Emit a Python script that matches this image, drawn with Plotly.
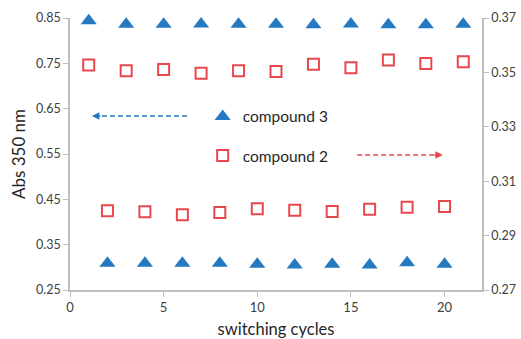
import plotly.graph_objects as go

# compound 3 (left axis) - triangles
c3_cycles = [1, 2, 3, 4, 5, 6, 7, 8, 9, 10, 11, 12, 13, 14, 15, 16, 17, 18, 19, 20, 21]
c3_abs = [0.844, 0.309, 0.836, 0.309, 0.836, 0.309, 0.837, 0.309, 0.836, 0.307,
          0.836, 0.305, 0.835, 0.307, 0.837, 0.305, 0.835, 0.310, 0.835, 0.307, 0.836]

# compound 2 (right axis) - open squares
c2_cycles = [1, 2, 3, 4, 5, 6, 7, 8, 9, 10, 11, 12, 13, 14, 15, 16, 17, 18, 19, 20, 21]
c2_abs = [0.3527, 0.2991, 0.3506, 0.2988, 0.3511, 0.2977, 0.3497, 0.2985, 0.3506, 0.2999,
          0.3503, 0.2993, 0.3530, 0.2989, 0.3517, 0.2997, 0.3546, 0.3004, 0.3533, 0.3007, 0.3539]

x_ticks = [0, 5, 10, 15, 20]
y_left_ticks = [0.25, 0.35, 0.45, 0.55, 0.65, 0.75, 0.85]
y_right_ticks = [0.27, 0.29, 0.31, 0.33, 0.35, 0.37]

BLUE = "#2479c1"
RED = "#e8484d"
AXIS = "#bfbfbf"
FONT = "Lato"

fig = go.Figure()
fig.add_trace(go.Scatter(
    x=c3_cycles, y=c3_abs, mode="markers", name="compound 3",
    legendgroup="a", cliponaxis=False,
    marker=dict(symbol="triangle-up", size=14, color=BLUE),
))
fig.add_trace(go.Scatter(
    x=c2_cycles, y=c2_abs, mode="markers", name="compound 2", yaxis="y2",
    legendgroup="b", cliponaxis=False,
    marker=dict(symbol="square-open", size=11, color=RED, line=dict(width=2, color=RED)),
))

# dashed arrows (paper coordinates): tail -> tip
arrows = [
    dict(x0=0.284, x1=0.053, y=0.640, color=BLUE, dirn=-1),
    dict(x0=0.697, x1=0.905, y=0.496, color=RED, dirn=1),
]
for a in arrows:
    fig.add_shape(type="line", xref="paper", yref="paper",
                  x0=a["x0"], x1=a["x1"] - a["dirn"] * 0.012, y0=a["y"], y1=a["y"],
                  line=dict(color=a["color"], width=1.5, dash="5px,3px"))
    fig.add_annotation(xref="paper", yref="paper", x=a["x1"], y=a["y"],
                       ax=-a["dirn"] * 10, ay=0,
                       text="", showarrow=True, arrowhead=2, arrowsize=1,
                       arrowwidth=1.5, arrowcolor=a["color"])

fig.update_layout(
    width=521, height=339,
    margin=dict(l=70, r=39, t=18, b=49, autoexpand=False),
    paper_bgcolor="white", plot_bgcolor="white",
    font=dict(family=FONT, size=13, color="#404040"),
    showlegend=True,
    legend=dict(x=0.322, y=0.699, xanchor="left", yanchor="top",
                bgcolor="rgba(0,0,0,0)", font=dict(size=15.5, color="#262626"),
                tracegroupgap=16, itemwidth=30),
    xaxis=dict(range=[0, 22], tickvals=x_ticks, showgrid=False, zeroline=False,
               automargin=False,
               showline=True, linecolor=AXIS, linewidth=1.5, ticks="outside",
               tickcolor=AXIS, ticklen=5,
               title=dict(text="switching cycles", font=dict(size=16.5, color="#262626"), standoff=12),
               tickfont=dict(size=13, color="#404040")),
    yaxis=dict(range=[0.25, 0.85], tickvals=y_left_ticks, tickformat=".2f",
               automargin=False,
               showgrid=False, zeroline=False, showline=True, linecolor=AXIS,
               linewidth=1.5, ticks="outside", tickcolor=AXIS, ticklen=5,
               title=dict(text="Abs 350 nm", font=dict(size=17, color="#262626"), standoff=6),
               tickfont=dict(size=12.5, color="#404040")),
    yaxis2=dict(range=[0.27, 0.37], tickvals=y_right_ticks, tickformat=".2f",
                automargin=False,
                overlaying="y", side="right", showgrid=False, zeroline=False,
                showline=True, linecolor=AXIS, linewidth=1.5, ticks="outside",
                tickcolor=AXIS, ticklen=5, tickfont=dict(size=12.5, color="#404040")),
)

fig.write_html("out.html", config={"displayModeBar": False},
               post_script="document.body.style.margin='0px';")
